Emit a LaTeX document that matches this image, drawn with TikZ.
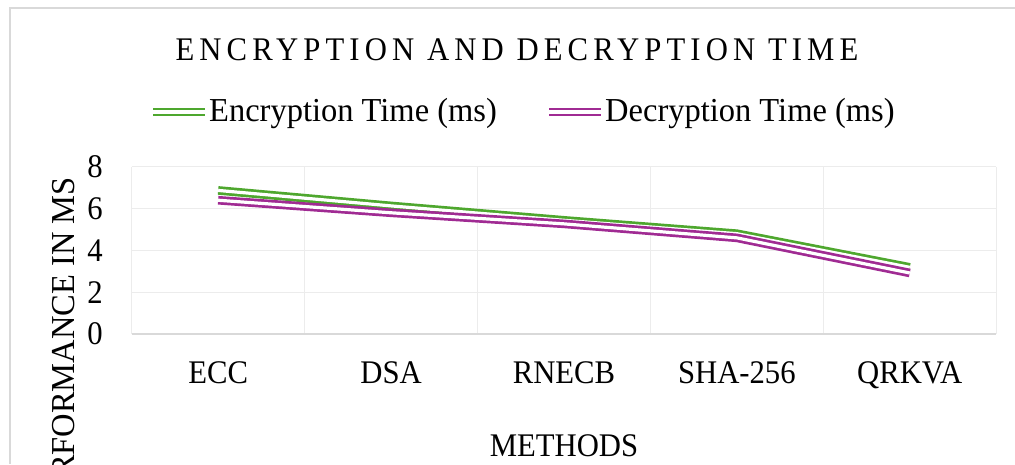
\documentclass[tikz,border=0pt]{standalone}
\usepackage{fontspec}
\setmainfont[FakeStretch=0.93]{Liberation Serif}
\newfontfamily\titlefont[FakeStretch=0.93,LetterSpace=15.5]{Liberation Serif}
\newfontfamily\legendfont[FakeStretch=0.97]{Liberation Serif}
\definecolor{enc}{HTML}{4EA72E}
\definecolor{dec}{HTML}{A02B93}
\definecolor{gridgray}{HTML}{ECECEC}
\definecolor{framegray}{HTML}{D9D9D9}

\begin{document}
\begin{tikzpicture}[x=1pt,y=-1pt,
  lbl/.style={font=\fontsize{33}{36}\selectfont, inner sep=0pt, text=black},
  series/.style={line width=2.7pt, double distance=3.2pt, double=white, line join=round},
  encline/.style={series, draw=enc},
  decline/.style={series, draw=dec},
  gridline/.style={draw=gridgray, line width=1.2pt},
]
\useasboundingbox (0,0) rectangle (1015,464);
\fill[white] (0,0) rectangle (1015,464);
% chart frame
\draw[framegray, line width=1.5pt] (10,464) -- (10,8) -- (1015,8);

% title
\node[lbl, font=\titlefont\fontsize{33}{36}\selectfont, anchor=base] (title) at (517,60) {ENCRYPTION AND DECRYPTION TIME};

% legend
\coordinate (encA) at (153,112);
\coordinate (encB) at (205,112);
\draw[encline] (encA) -- (encB);
\node[lbl, font=\legendfont\fontsize{33.5}{36}\selectfont, anchor=base west] (enctext) at (209,121) {Encryption Time (ms)};
\coordinate (decA) at (549,112);
\coordinate (decB) at (601,112);
\draw[decline] (decA) -- (decB);
\node[lbl, font=\legendfont\fontsize{33.5}{36}\selectfont, anchor=base west] (dectext) at (605,121) {Decryption Time (ms)};

% plot area: one unit across per method, one unit up per ms
\begin{scope}[shift={(131.7,334)}, x=172.9pt, y=20.9pt]
  \foreach \v in {2,4,6,8} \draw[gridline] (0,\v) -- (5,\v);
  \foreach \c in {1,...,5} \draw[gridline] (\c,0) -- (\c,8);
  \draw[gridline] (0,0) -- (0,8);
  \draw[framegray, line width=1.2pt] (0,0) -- (5,0);

  \foreach \v in {0,2,4,6,8}
    \node[lbl, anchor=east, xshift=-28.7pt] (ytick\v) at (0,\v) {\v};

  % encryption time
  \coordinate (e1) at (0.5,6.87);
  \coordinate (e2) at (1.5,6.13);
  \coordinate (e3) at (2.5,5.44);
  \coordinate (e4) at (3.5,4.80);
  \coordinate (e5) at (4.5,3.19);
  % decryption time
  \coordinate (d1) at (0.5,6.40);
  \coordinate (d2) at (1.5,5.80);
  \coordinate (d3) at (2.5,5.27);
  \coordinate (d4) at (3.5,4.60);
  \coordinate (d5) at (4.5,2.92);
  \draw[encline] (e1) -- (e2) -- (e3) -- (e4) -- (e5);
  \draw[decline] (d1) -- (d2) -- (d3) -- (d4) -- (d5);
\end{scope}

% category labels
\node[lbl, anchor=base] (catECC) at (218.15,383) {ECC};
\node[lbl, anchor=base] (catDSA) at (391.05,383) {DSA};
\node[lbl, anchor=base] (catRNECB) at (563.95,383) {RNECB};
\node[lbl, anchor=base] (catSHA) at (736.85,383) {SHA-256};
\node[lbl, anchor=base] (catQRKVA) at (909.75,383) {QRKVA};

% axis titles
\node[lbl, anchor=base] (xtitle) at (564,456) {METHODS};
\begin{scope}
  \clip (0,0) rectangle (1015,464);
  \node[lbl, font=\legendfont\fontsize{33.5}{36}\selectfont, rotate=90, anchor=east] (ytitle) at (64,177) {PERFORMANCE IN MS};
\end{scope}
\end{tikzpicture}
\end{document}
